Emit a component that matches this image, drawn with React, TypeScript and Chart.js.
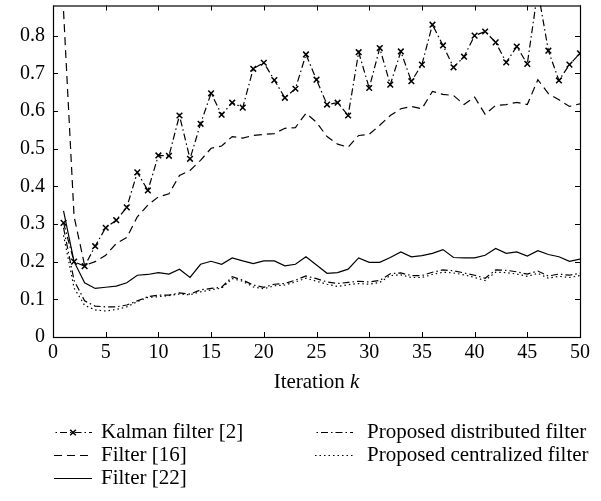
import React, { useEffect, useRef } from "react";
import { Chart, registerables } from "chart.js";

Chart.register(...registerables);

const iterations = [
  1, 2, 3, 4, 5, 6, 7, 8, 9, 10, 11, 12, 13, 14, 15, 16, 17, 18, 19, 20, 21, 22, 23, 24, 25,
  26, 27, 28, 29, 30, 31, 32, 33, 34, 35, 36, 37, 38, 39, 40, 41, 42, 43, 44, 45, 46, 47, 48, 49, 50,
];

const kalman = [
  0.303, 0.2, 0.188, 0.241, 0.29, 0.31, 0.344, 0.437, 0.389, 0.482, 0.481, 0.588, 0.473, 0.566, 0.647,
  0.59, 0.622, 0.609, 0.712, 0.728, 0.682, 0.635, 0.659, 0.75, 0.683, 0.617, 0.622, 0.588, 0.756, 0.661,
  0.767, 0.67, 0.758, 0.679, 0.723, 0.829, 0.774, 0.716, 0.744, 0.8, 0.811, 0.782, 0.729, 0.771, 0.725,
  0.92, 0.76, 0.681, 0.723, 0.753,
];

const filter16 = [
  0.865, 0.32, 0.19, 0.2, 0.217, 0.248, 0.264, 0.319, 0.35, 0.372, 0.38, 0.429, 0.442, 0.469, 0.501,
  0.507, 0.532, 0.528, 0.535, 0.538, 0.54, 0.554, 0.556, 0.594, 0.57, 0.532, 0.512, 0.504, 0.535, 0.538,
  0.562, 0.588, 0.606, 0.612, 0.606, 0.652, 0.644, 0.641, 0.617, 0.637, 0.591, 0.615, 0.617, 0.623, 0.617,
  0.683, 0.646, 0.63, 0.612, 0.619,
];

const filter22 = [
  0.335, 0.2, 0.144, 0.129, 0.132, 0.135, 0.144, 0.164, 0.166, 0.171, 0.167, 0.18, 0.158, 0.193, 0.201,
  0.193, 0.21, 0.202, 0.195, 0.202, 0.202, 0.189, 0.193, 0.213, 0.191, 0.169, 0.171, 0.18, 0.21, 0.198,
  0.198, 0.211, 0.226, 0.213, 0.216, 0.222, 0.232, 0.211, 0.21, 0.21, 0.217, 0.235, 0.222, 0.226, 0.215,
  0.229, 0.219, 0.213, 0.201, 0.207,
];

const distributed = [
  0.29, 0.15, 0.096, 0.082, 0.08, 0.08, 0.085, 0.096, 0.107, 0.111, 0.111, 0.117, 0.114, 0.125, 0.129,
  0.132, 0.16, 0.151, 0.138, 0.132, 0.14, 0.142, 0.151, 0.162, 0.155, 0.146, 0.142, 0.145, 0.148, 0.146,
  0.15, 0.168, 0.17, 0.163, 0.163, 0.172, 0.178, 0.176, 0.17, 0.164, 0.156, 0.178, 0.177, 0.173, 0.167,
  0.175, 0.162, 0.167, 0.164, 0.169,
];

const centralized = [
  0.27, 0.13, 0.084, 0.072, 0.069, 0.073, 0.08, 0.094, 0.105, 0.107, 0.11, 0.114, 0.112, 0.12, 0.125,
  0.13, 0.155, 0.148, 0.133, 0.128, 0.136, 0.138, 0.146, 0.156, 0.148, 0.14, 0.134, 0.139, 0.142, 0.14,
  0.145, 0.163, 0.165, 0.158, 0.158, 0.166, 0.172, 0.17, 0.165, 0.158, 0.15, 0.172, 0.171, 0.167, 0.161,
  0.169, 0.156, 0.161, 0.158, 0.163,
];

const xTicks = [0, 5, 10, 15, 20, 25, 30, 35, 40, 45, 50];
const yTicks = [0, 0.1, 0.2, 0.3, 0.4, 0.5, 0.6, 0.7, 0.8];

const seriesLabels = [
  "Kalman filter [2]",
  "Filter [16]",
  "Filter [22]",
  "Proposed distributed filter",
  "Proposed centralized filter",
];

const FONT_FAMILY = "'Liberation Serif', 'Times New Roman', serif";
const DASH_DOT = [7, 3, 1.5, 3];
const DASHED = [8, 5];
const DOTTED = [1.5, 3];
const SOLID: number[] = [];

const toPoints = (vals: number[]) => vals.map((v, i) => ({ x: iterations[i], y: v }));

const decorPlugin = {
  id: "decor",
  afterDraw(chart: any) {
    const ctx: CanvasRenderingContext2D = chart.ctx;
    const { left, right, top, bottom } = chart.chartArea;
    const xs = chart.scales.x;
    const ys = chart.scales.y;
    ctx.save();
    ctx.strokeStyle = "#000";
    ctx.lineWidth = 1.2;
    ctx.setLineDash([]);
    ctx.strokeRect(left + 0.5, top + 0.5, right - left, bottom - top);
    const tl = 5;
    ctx.lineWidth = 1;
    ctx.beginPath();
    xTicks.forEach((v) => {
      const px = Math.round(xs.getPixelForValue(v)) + 0.5;
      ctx.moveTo(px, bottom);
      ctx.lineTo(px, bottom - tl);
      ctx.moveTo(px, top);
      ctx.lineTo(px, top + tl);
    });
    yTicks.forEach((v) => {
      const py = Math.round(ys.getPixelForValue(v)) + 0.5;
      ctx.moveTo(left, py);
      ctx.lineTo(left + tl, py);
      ctx.moveTo(right, py);
      ctx.lineTo(right - tl, py);
    });
    ctx.stroke();

    // x-axis title with italic k
    ctx.fillStyle = "#000";
    ctx.textBaseline = "middle";
    ctx.textAlign = "left";
    const normalFont = `21px ${FONT_FAMILY}`;
    const italicFont = `italic 21px ${FONT_FAMILY}`;
    ctx.font = normalFont;
    const t1 = "Iteration ";
    const w1 = ctx.measureText(t1).width;
    ctx.font = italicFont;
    const w2 = ctx.measureText("k").width;
    const cx = (left + right) / 2;
    const startX = cx - (w1 + w2) / 2;
    const ty = 382;
    ctx.font = normalFont;
    ctx.fillText(t1, startX, ty);
    ctx.font = italicFont;
    ctx.fillText("k", startX + w1, ty);

    // legend
    const datasets = chart.data.datasets;
    const slots = [
      { x: 54, tx: 101, y: 432 },
      { x: 54, tx: 101, y: 455 },
      { x: 54, tx: 101, y: 478 },
      { x: 315, tx: 367, y: 432 },
      { x: 315, tx: 367, y: 455 },
    ];
    const sampleLen = 38;
    datasets.forEach((ds: any, i: number) => {
      const s = slots[i];
      const y = s.y + 0.5;
      ctx.save();
      ctx.strokeStyle = "#000";
      ctx.lineWidth = ds.borderWidth;
      ctx.setLineDash(ds.borderDash || []);
      ctx.lineDashOffset = ds.borderDash && ds.borderDash.length === 4 ? 8.5 : 0;
      ctx.beginPath();
      ctx.moveTo(s.x, y);
      ctx.lineTo(s.x + sampleLen, y);
      ctx.stroke();
      if (ds.pointRadius > 0) {
        ctx.setLineDash([]);
        const mx = s.x + sampleLen / 2;
        const r = ds.pointRadius * 0.707;
        ctx.lineWidth = ds.pointBorderWidth;
        ctx.beginPath();
        ctx.moveTo(mx - r, y - r);
        ctx.lineTo(mx + r, y + r);
        ctx.moveTo(mx - r, y + r);
        ctx.lineTo(mx + r, y - r);
        ctx.stroke();
      }
      ctx.restore();
      ctx.font = normalFont;
      ctx.fillStyle = "#000";
      ctx.textBaseline = "middle";
      ctx.fillText(ds.label, s.tx, s.y);
    });
    ctx.restore();
  },
};

export default function App() {
  const canvasRef = useRef<HTMLCanvasElement | null>(null);

  useEffect(() => {
    const canvas = canvasRef.current;
    if (!canvas) return;
    const base = {
      borderColor: "#000",
      backgroundColor: "#000",
      borderWidth: 1.2,
      fill: false,
      tension: 0,
      pointRadius: 0,
      pointBorderWidth: 1.5,
    };
    const chart = new Chart(canvas, {
      type: "line",
      data: {
        datasets: [
          {
            ...base,
            label: seriesLabels[0],
            data: toPoints(kalman),
            borderDash: DASH_DOT,
            pointRadius: 4,
            pointStyle: "crossRot",
            pointBorderColor: "#000",
          },
          { ...base, label: seriesLabels[1], data: toPoints(filter16), borderDash: DASHED },
          { ...base, label: seriesLabels[2], data: toPoints(filter22), borderDash: SOLID },
          { ...base, label: seriesLabels[3], data: toPoints(distributed), borderDash: DASH_DOT },
          { ...base, label: seriesLabels[4], data: toPoints(centralized), borderDash: DOTTED },
        ] as any,
      },
      options: {
        animation: false,
        responsive: false,
        devicePixelRatio: 1,
        layout: { padding: { left: 0, right: 21, top: 5, bottom: 0 } },
        plugins: { legend: { display: false }, tooltip: { enabled: false } },
        scales: {
          x: {
            type: "linear",
            min: 0,
            max: 50,
            grid: { display: false, drawTicks: false },
            border: { display: false },
            ticks: {
              color: "#000",
              font: { family: FONT_FAMILY, size: 20 },
              padding: 4,
              maxRotation: 0,
              autoSkip: false,
              callback: (v: any) => String(v),
            },
            afterBuildTicks: (s: any) => {
              s.ticks = xTicks.map((v) => ({ value: v }));
            },
            afterFit: (s: any) => {
              s.height = 164;
              s.paddingLeft = 0;
              s.paddingRight = 0;
            },
          },
          y: {
            type: "linear",
            min: 0,
            max: 0.88,
            grid: { display: false, drawTicks: false },
            border: { display: false },
            ticks: {
              color: "#000",
              font: { family: FONT_FAMILY, size: 20 },
              padding: 8,
              autoSkip: false,
              callback: (v: any) => (Number(v) === 0 ? "0" : Number(v).toFixed(1)),
            },
            afterBuildTicks: (s: any) => {
              s.ticks = yTicks.map((v) => ({ value: v }));
            },
            afterFit: (s: any) => {
              s.width = 53;
              s.paddingTop = 0;
              s.paddingBottom = 0;
            },
          },
        },
      } as any,
      plugins: [decorPlugin],
    });
    return () => chart.destroy();
  }, []);

  return (
    <div style={{ position: "fixed", left: 0, top: 0, width: 601, height: 501, background: "#fff" }}>
      <canvas ref={canvasRef} width={601} height={501} style={{ width: 601, height: 501, display: "block" }} />
    </div>
  );
}
